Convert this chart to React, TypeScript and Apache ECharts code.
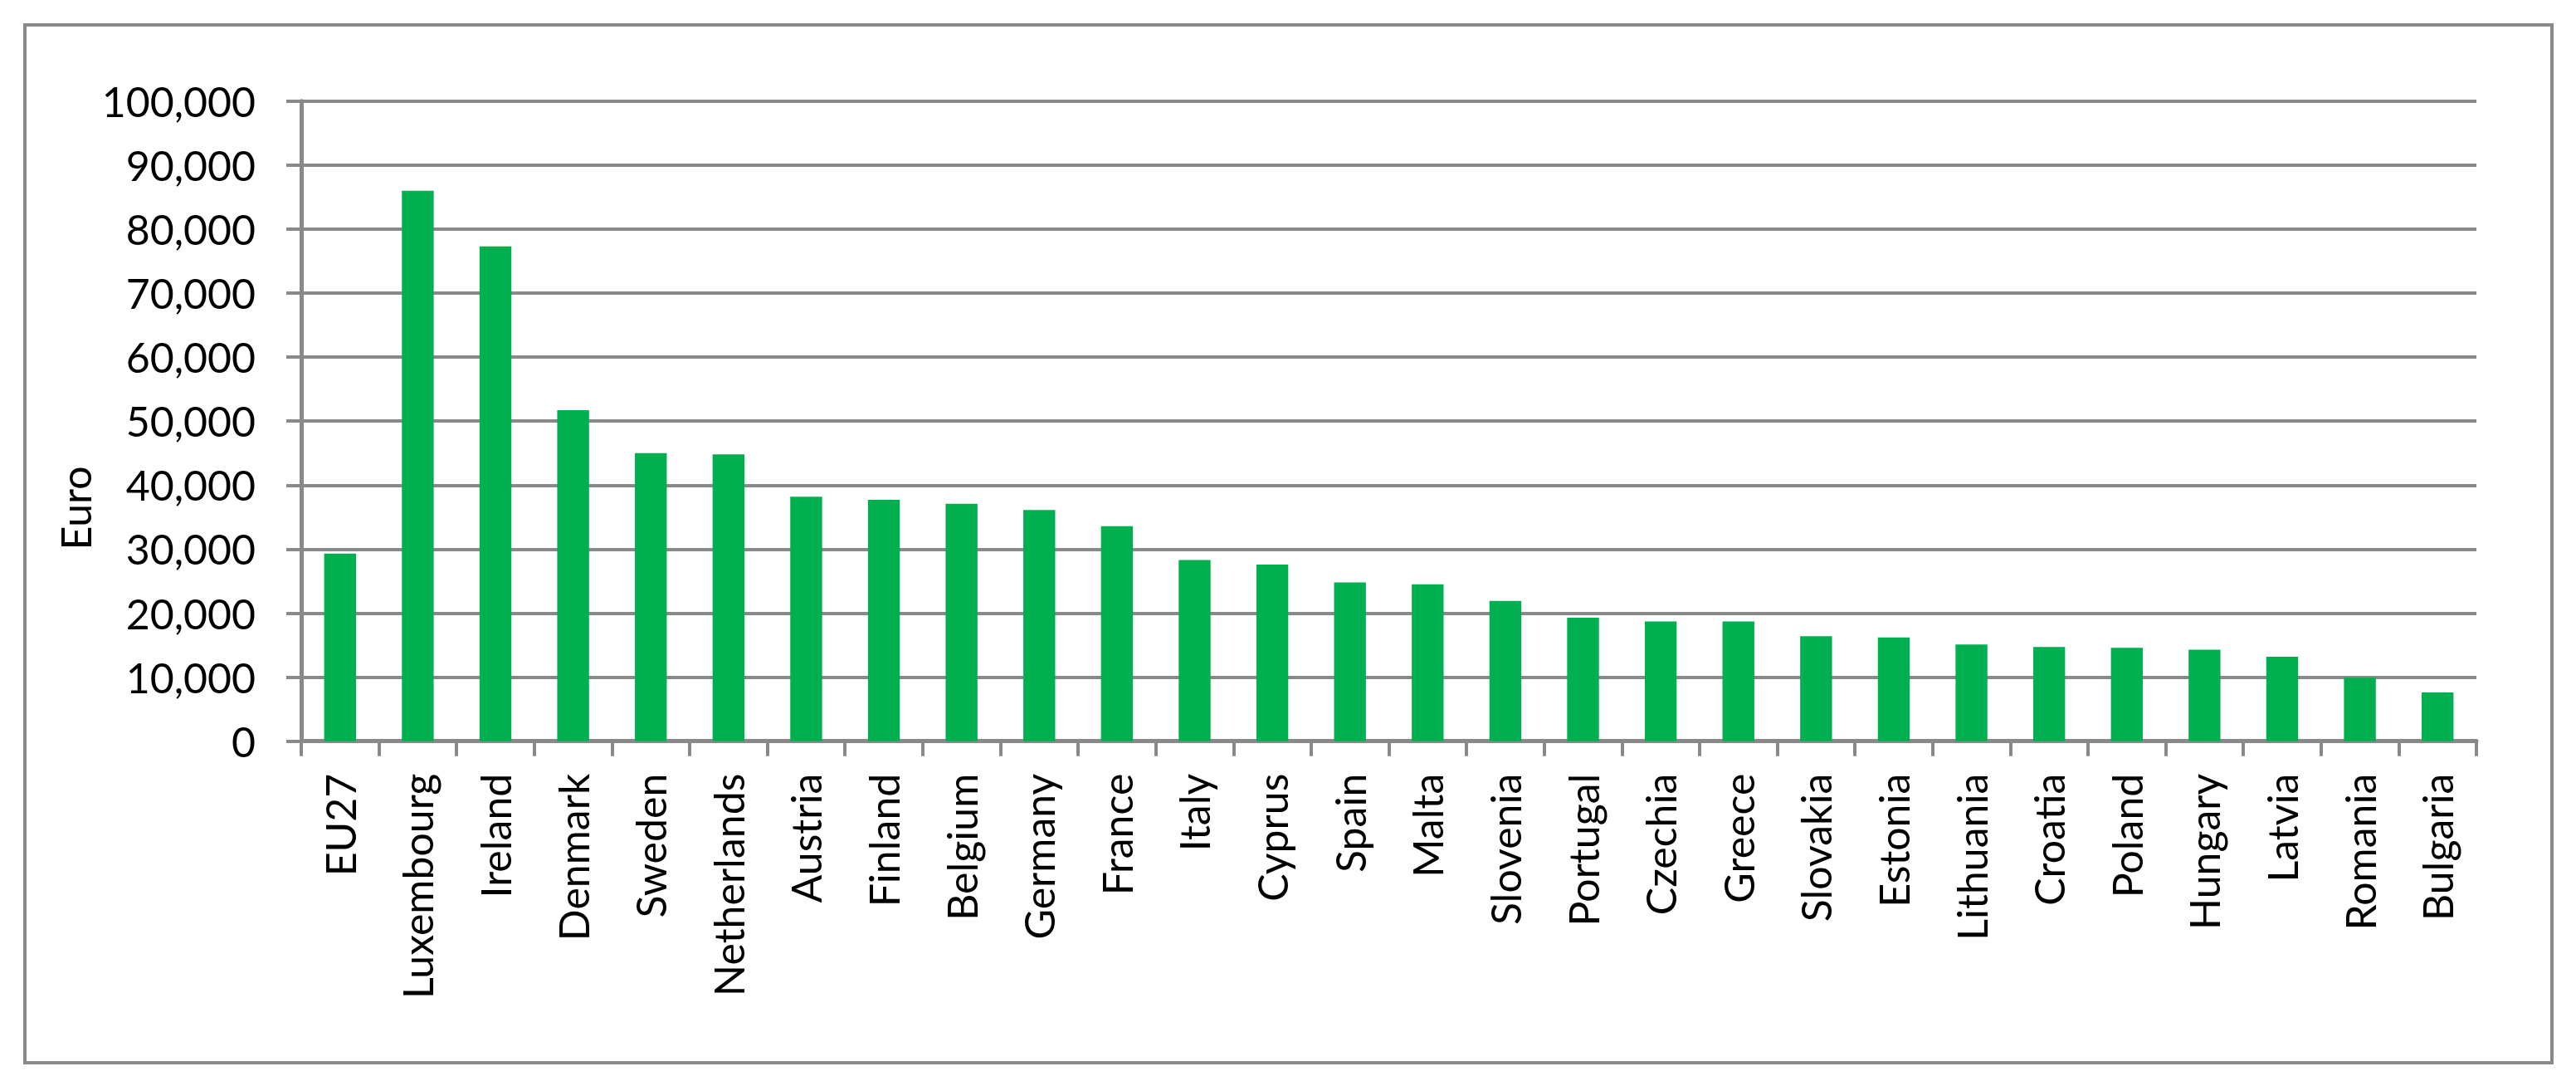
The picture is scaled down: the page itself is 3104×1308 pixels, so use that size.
import React, { useEffect, useRef } from "react";
import * as echarts from "echarts";

const categories: string[] = [
  "EU27", "Luxembourg", "Ireland", "Denmark", "Sweden", "Netherlands", "Austria",
  "Finland", "Belgium", "Germany", "France", "Italy", "Cyprus", "Spain", "Malta",
  "Slovenia", "Portugal", "Czechia", "Greece", "Slovakia", "Estonia", "Lithuania",
  "Croatia", "Poland", "Hungary", "Latvia", "Romania", "Bulgaria",
];

const values: number[] = [
  29300, 86000, 77300, 51700, 45000, 44800, 38200,
  37700, 37100, 36100, 33600, 28300, 27600, 24800, 24500,
  21900, 19300, 18700, 18700, 16400, 16200, 15100,
  14700, 14600, 14300, 13200, 9900, 7600,
];

const yMin = 0;
const yMax = 100000;
const yStep = 10000;
const yAxisTitle = "Euro";

const GRAY = "#898989";
const FONT = "Lato";

function addCommas(v: number): string {
  return String(v).replace(/\B(?=(\d{3})+(?!\d))/g, ",");
}

export default function App() {
  const ref = useRef<HTMLDivElement>(null);

  useEffect(() => {
    document.body.style.margin = "0";
    if (!ref.current) return;
    const chart = echarts.init(ref.current, undefined, { renderer: "svg" });
    chart.setOption({
      animation: false,
      backgroundColor: "#ffffff",
      grid: { left: 363, top: 121.7, right: 120, bottom: 415.3, containLabel: false },
      xAxis: {
        type: "category",
        data: categories,
        axisLine: { show: true, lineStyle: { color: GRAY, width: 5 } },
        axisTick: { show: true, length: 18, lineStyle: { color: GRAY, width: 4 } },
        axisLabel: {
          rotate: 90,
          margin: 39,
          interval: 0,
          color: "#000000",
          fontFamily: FONT,
          fontSize: 50,
        },
      },
      yAxis: {
        type: "value",
        min: yMin,
        max: yMax,
        interval: yStep,
        axisLine: { show: true, lineStyle: { color: GRAY, width: 5 } },
        axisTick: { show: true, length: 18, lineStyle: { color: GRAY, width: 4 } },
        splitLine: { show: true, lineStyle: { color: GRAY, width: 4 } },
        axisLabel: {
          margin: 55,
          color: "#000000",
          fontFamily: FONT,
          fontSize: 50,
          formatter: (v: number) => addCommas(v),
        },
      },
      series: [
        {
          type: "bar",
          data: values,
          barWidth: "41%",
          itemStyle: { color: "#00B050" },
        },
      ],
      graphic: [
        {
          type: "rect",
          shape: { x: 30, y: 30, width: 3045, height: 1250 },
          style: { fill: "none", stroke: GRAY, lineWidth: 4 },
          silent: true,
          z: 100,
        },
        {
          type: "text",
          x: 91,
          y: 612,
          rotation: Math.PI / 2,
          style: {
            text: yAxisTitle,
            fontFamily: FONT,
            fontSize: 50,
            fill: "#000000",
            textAlign: "center",
            textVerticalAlign: "middle",
          },
        },
      ],
    });
    return () => chart.dispose();
  }, []);

  return (
    <div
      ref={ref}
      style={{ position: "fixed", left: 0, top: 0, width: 3104, height: 1308 }}
    />
  );
}
